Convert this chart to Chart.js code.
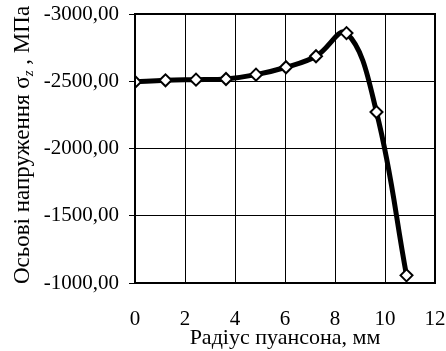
<!DOCTYPE html>
<html>
<head>
<meta charset="utf-8">
<script src="https://cdn.jsdelivr.net/npm/chart.js@4"></script>
<style>
  body { margin: 0; background: #fff; }
  #wrap { width: 446px; height: 351px; }
</style>
</head>
<body>
<div id="wrap"><canvas id="chart" width="446" height="351"></canvas></div>
<script>
// радіус пуансона, мм
var radius = [0, 1.22, 2.44, 3.64, 4.84, 6.04, 7.24, 8.46, 9.66, 10.86];
// осьові напруження, МПа
var sigmaZ = [-2495, -2507, -2512, -2517, -2549, -2604, -2686, -2858, -2271, -1057];

var xTicks = [0, 2, 4, 6, 8, 10, 12];
var yTicks = [-3000, -2500, -2000, -1500, -1000];

var serif = "'Liberation Serif', 'Times New Roman', serif";

var points = radius.map(function (r, i) { return { x: r, y: sigmaZ[i] }; });

// рамка навколо області графіка + підпис осі Y з індексом
var frame = {
  id: 'frame',
  afterDatasetsDraw: function (chart) {
    var c = chart.ctx, a = chart.chartArea;
    c.save();
    c.strokeStyle = '#000';
    c.lineWidth = 2;
    c.strokeRect(a.left, a.top, a.right - a.left, a.bottom - a.top);
    c.restore();
  },
  afterDraw: function (chart) {
    var c = chart.ctx;
    var p1 = 'Осьові напруження σ', sub = 'z', p2 = ' , МПа';
    c.save();
    c.fillStyle = '#000';
    c.textBaseline = 'alphabetic';
    var big = '23px ' + serif, small = 'italic 15px ' + serif;
    c.font = big; var w1 = c.measureText(p1).width, w3 = c.measureText(p2).width;
    c.font = small; var w2 = c.measureText(sub).width;
    var total = w1 + w2 + w3;
    c.translate(29, 145);
    c.rotate(-Math.PI / 2);
    var x = -total / 2;
    c.font = big; c.fillText(p1, x, 0);
    c.font = small; c.fillText(sub, x + w1, 4);
    c.font = big; c.fillText(p2, x + w1 + w2, 0);
    c.restore();
  }
};

new Chart('chart', {
  type: 'line',
  data: {
    datasets: [{
      data: points,
      borderColor: '#000',
      borderWidth: 5,
      tension: 0.4,
      pointStyle: 'rectRot',
      pointRadius: 6,
      pointBorderWidth: 2,
      pointBackgroundColor: '#fff',
      pointBorderColor: '#000'
    }]
  },
  options: {
    responsive: false,
    animation: false,
    layout: { padding: { left: 0, right: 0, top: 2, bottom: 0 } },
    plugins: { legend: { display: false }, tooltip: { enabled: false } },
    scales: {
      x: {
        type: 'linear',
        min: 0, max: 12,
        afterBuildTicks: function (s) { s.ticks = xTicks.map(function (v) { return { value: v }; }); },
        afterFit: function (s) { s.height = 68; s.paddingRight = 11; s.paddingLeft = 0; },
        grid: { color: '#000', lineWidth: 1, drawTicks: false },
        border: { display: false },
        ticks: { color: '#000', font: { family: serif, size: 21 }, padding: 24, maxRotation: 0 },
        title: { display: true, text: 'Радіус пуансона, мм', color: '#000', font: { family: serif, size: 22 }, padding: { top: 0, bottom: 0 } }
      },
      y: {
        min: -3000, max: -1000,
        reverse: true,
        afterBuildTicks: function (s) { s.ticks = yTicks.map(function (v) { return { value: v }; }); },
        afterFit: function (s) { s.width = 135; s.paddingTop = 14; s.paddingBottom = 0; },
        grid: { color: '#000', lineWidth: 1, tickLength: 6 },
        border: { display: false },
        ticks: {
          color: '#000', font: { family: serif, size: 21 }, padding: 10,
          callback: function (v) { return v.toFixed(2).replace('.', ','); }
        }
      }
    }
  },
  plugins: [frame]
});
</script>
</body>
</html>
